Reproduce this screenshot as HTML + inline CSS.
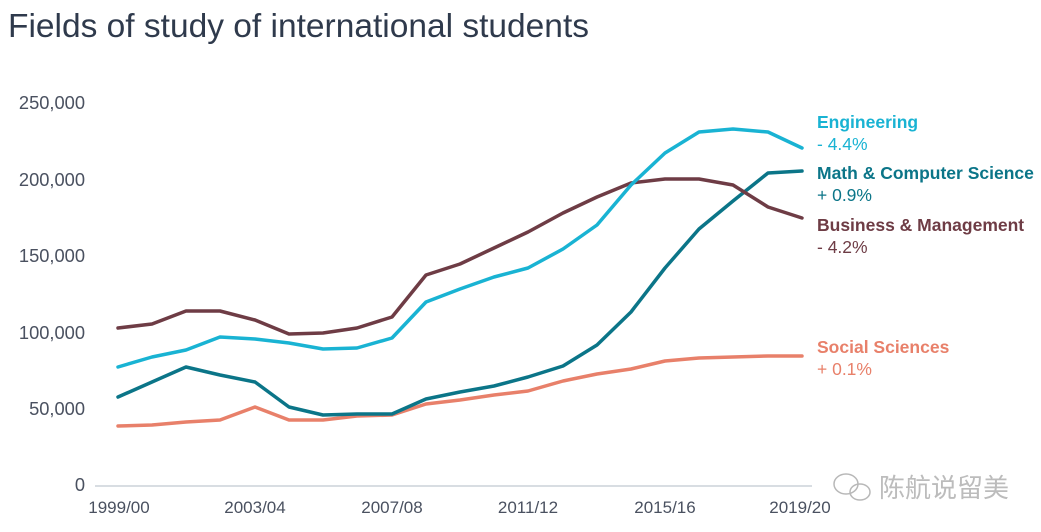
<!DOCTYPE html>
<html><head><meta charset="utf-8"><style>
html,body{margin:0;padding:0;background:#fff}
svg{display:block}
</style></head><body>
<svg width="1041" height="532" viewBox="0 0 1041 532" xmlns="http://www.w3.org/2000/svg" font-family="Liberation Sans, sans-serif">
<rect width="1041" height="532" fill="#fff"/>
<text x="8" y="37" font-size="33.5" fill="#2f3a4c">Fields of study of international students</text>
<g font-size="18.3" fill="#4a5160" text-anchor="end">
<text x="85" y="109">250,000</text>
<text x="85" y="186">200,000</text>
<text x="85" y="262">150,000</text>
<text x="85" y="339">100,000</text>
<text x="85" y="415">50,000</text>
<text x="85" y="491">0</text>
</g>
<line x1="95" y1="486" x2="812" y2="486" stroke="#d8dde2" stroke-width="2"/>
<g font-size="17" fill="#4a5160" text-anchor="middle">
<text x="119" y="513">1999/00</text>
<text x="255" y="513">2003/04</text>
<text x="392" y="513">2007/08</text>
<text x="528" y="513">2011/12</text>
<text x="665" y="513">2015/16</text>
<text x="800" y="513">2019/20</text>
</g>
<g fill="none" stroke-width="3.5" stroke-linejoin="round" stroke-linecap="round">
<polyline stroke="#e8806a" points="118,426 152,425 186,422 220,420 255,407 289,420 323,420 357,416 392,415 426,404 460,400 494,395 528,391 563,381 597,374 631,369 665,361 699,358 733,357 768,356 802,356"/>
<polyline stroke="#0b7588" points="118,397 152,382 186,367 220,375 255,382 289,407 323,415 357,414 392,414 426,399 460,392 494,386 528,377 563,366 597,345 631,312 665,268 699,229 733,201 768,173 802,171"/>
<polyline stroke="#6e3c45" points="118,328 152,324 186,311 220,311 255,320 289,334 323,333 357,328 392,317 426,275 460,264 494,248 528,232 563,213 597,197 631,183 665,179 699,179 733,185 768,207 802,218"/>
<polyline stroke="#19b3d3" points="118,367 152,357 186,350 220,337 255,339 289,343 323,349 357,348 392,338 426,302 460,289 494,277 528,268 563,249 597,225 631,185 665,153 699,132 733,129 768,132 802,148"/>
</g>
<g font-size="17.5">
<text x="817" y="128" font-weight="bold" fill="#19b3d3">Engineering</text>
<text x="817" y="150" fill="#19b3d3">- 4.4%</text>
<text x="817" y="179" font-weight="bold" fill="#0b7588">Math &amp; Computer Science</text>
<text x="817" y="201" fill="#0b7588">+ 0.9%</text>
<text x="817" y="231" font-weight="bold" fill="#6e3c45">Business &amp; Management</text>
<text x="817" y="253" fill="#6e3c45">- 4.2%</text>
<text x="817" y="353" font-weight="bold" fill="#e8806a">Social Sciences</text>
<text x="817" y="375" fill="#e8806a">+ 0.1%</text>
</g>
<g fill="none" stroke="#b8b8b8" stroke-width="1.5">
<ellipse cx="846" cy="484" rx="12" ry="10"/>
<ellipse cx="860" cy="492" rx="10" ry="8"/>
</g>
<text x="879" y="497" font-size="26" fill="#bcbcbc" font-family="Liberation Sans, Noto Sans CJK SC, sans-serif">陈航说留美</text>
</svg>
</body></html>
